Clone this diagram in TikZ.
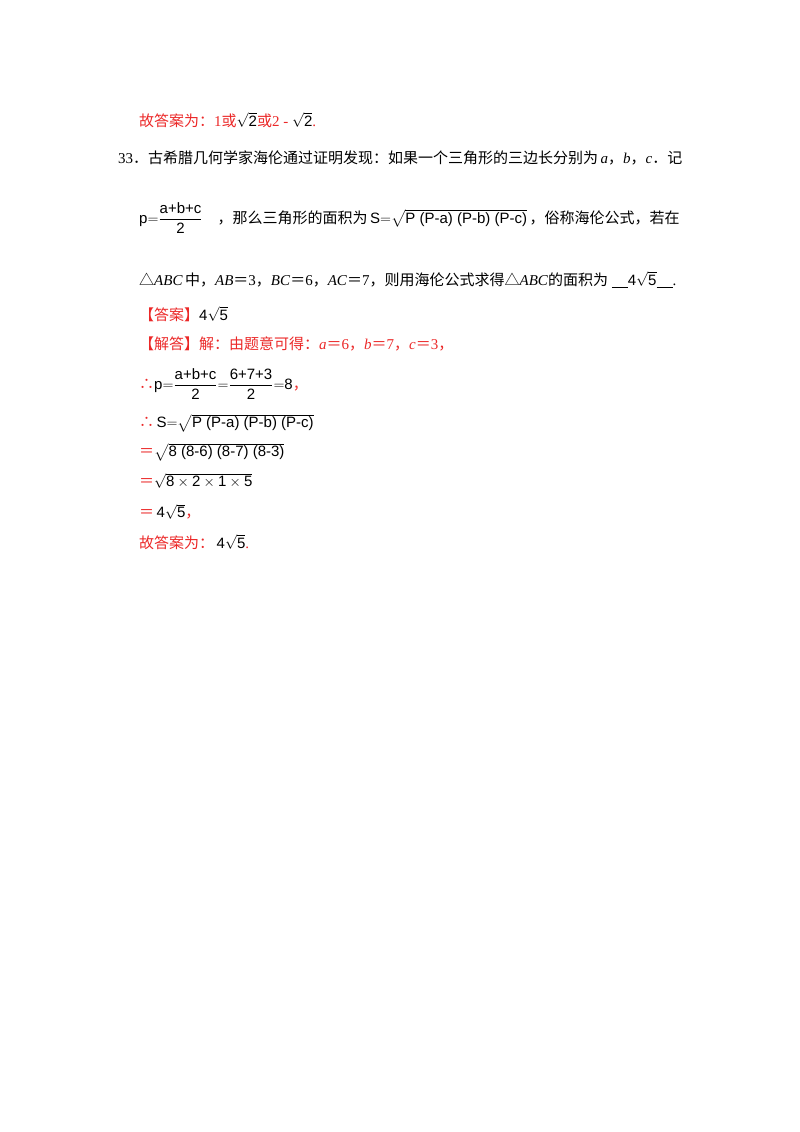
\documentclass[tikz,border=0pt]{standalone}
\usepackage{amsmath}
\usepackage{fontspec}
\setmainfont{Liberation Serif}
\newfontfamily\cjk{Noto Sans CJK SC}
\newfontfamily\fsf{Liberation Sans}
\definecolor{ans}{RGB}{235,40,40}
\newcommand{\f}[1]{\text{\fsf #1}}
\newcommand{\eq}{{\cjk ＝}}
\newcommand{\tri}{{\cjk △}}
\newcommand{\fs}{\f{4}\sqrt{\f{5}}}
\begin{document}
\begin{tikzpicture}[x=1pt,y=-1pt,
  line/.style={anchor=west,inner sep=0pt,font=\fontsize{15}{17}\selectfont},
  red/.style={line,text=ans}]
\useasboundingbox (0,0) rectangle (800,1132);
\node[red] (l1) at (139,120) {{\cjk 故答案为：}1{\cjk 或}\textcolor{black}{$\sqrt{\f{2}}$}{\cjk 或}2 - \textcolor{black}{$\sqrt{\f{2}}$}.};
\node[line] (l2) at (118,158) {33{\cjk ．古希腊几何学家海伦通过证明发现：如果一个三角形的三边长分别为}\,\textit{a}{\cjk ，}\textit{b}{\cjk ，}\textit{c}{\cjk ．记}};
\node[line] (l3) at (139,218) {$\f{p}{=}\dfrac{\f{a+b+c}}{\f{2}}$\quad{\cjk ，那么三角形的面积为}\,$\f{S}{=}\sqrt{\f{P (P-a) (P-b) (P-c)}}$\,{\cjk ，俗称海伦公式，若在}};
\node[line] (l4) at (139,280) {\tri\textit{ABC}\,{\cjk 中，}\textit{AB}\eq 3{\cjk ，}\textit{BC}\eq 6{\cjk ，}\textit{AC}\eq 7{\cjk ，则用海伦公式求得}\tri\textit{ABC}{\cjk 的面积为}\ \underline{\hspace{16pt}}$\fs$\underline{\hspace{16pt}}.};
\node[red] (l5) at (139,314) {{\cjk 【答案】}\textcolor{black}{$\fs$}};
\node[red] (l6) at (139,344) {{\cjk 【解答】解：由题意可得：}\textit{a}\eq 6{\cjk ，}\textit{b}\eq 7{\cjk ，}\textit{c}\eq 3{\cjk ，}};
\node[red] (l7) at (139,384) {{\cjk ∴}\textcolor{black}{$\f{p}{=}\dfrac{\f{a+b+c}}{\f{2}}{=}\dfrac{\f{6+7+3}}{\f{2}}{=}\f{8}$}{\cjk ，}};
\node[red] (l8) at (139,423) {{\cjk ∴}\,\textcolor{black}{$\f{S}{=}\sqrt{\f{P (P-a) (P-b) (P-c)}}$}};
\node[red] (l9) at (139,452) {\eq\textcolor{black}{$\sqrt{\f{8 (8-6) (8-7) (8-3)}}$}};
\node[red] (l10) at (139,481) {\eq\textcolor{black}{$\sqrt{\f{8}\times\f{2}\times\f{1}\times\f{5}}$}};
\node[red] (l11) at (139,512) {\eq\,\textcolor{black}{$\fs$}{\cjk ，}};
\node[red] (l12) at (139,542) {{\cjk 故答案为：}\,\textcolor{black}{$\fs$}.};
\end{tikzpicture}
\end{document}
